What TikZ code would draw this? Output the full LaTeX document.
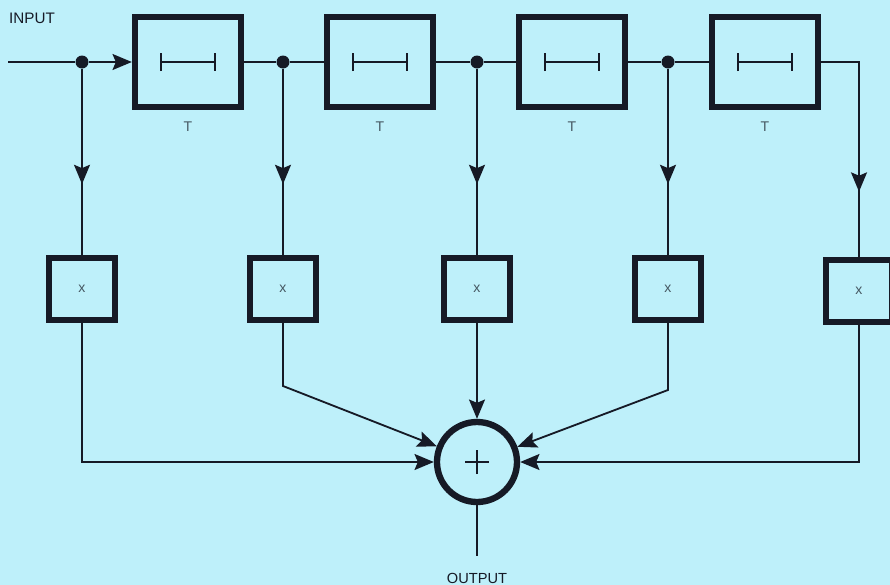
\documentclass[tikz,border=0pt]{standalone}
\usepackage{fontspec}
\setmainfont{Liberation Sans}
\usetikzlibrary{positioning,arrows.meta,decorations.markings}
\definecolor{paperblue}{RGB}{190,240,250}
\definecolor{inkdark}{RGB}{22,26,38}
\definecolor{inkgrey}{RGB}{70,88,98}

\begin{document}
\begin{tikzpicture}[x=0.3mm, y=-0.3mm,
  >={Stealth[length=5.8mm, width=4.8mm, inset=1mm]},
  wire/.style={draw=inkdark, line width=0.55mm},
  delaybox/.style={draw=inkdark, line width=1.9mm, minimum width=31.8mm,
    minimum height=27mm, inner sep=0pt},
  multbox/.style={draw=inkdark, line width=1.9mm, minimum width=19.8mm,
    minimum height=18.6mm, inner sep=0pt, text=inkgrey,
    font=\fontsize{12}{12}\selectfont},
  sumnode/.style={circle, draw=inkdark, line width=1.9mm, minimum size=24mm,
    inner sep=0pt},
  junction/.style={circle, fill=inkdark, minimum size=3.9mm, inner sep=0pt},
  tlabel/.style={inner sep=0pt, text=inkgrey, font=\fontsize{12}{12}\selectfont},
  iolabel/.style={inner sep=0pt, text=inkdark, font=\fontsize{13}{13}\selectfont},
  midarrow/.style={postaction={decorate}, decoration={markings,
    mark=at position #1 with {\arrow{>}}}},
]
% background, page size 890 x 585
\fill[paperblue] (0,0) rectangle (890,585);
\useasboundingbox (0,0) rectangle (890,585);

% tapped delay line
\node[delaybox] (d1) at (188,62) {};
\node[delaybox] (d2) at (380,62) {};
\node[delaybox] (d3) at (572,62) {};
\node[delaybox] (d4) at (765,62) {};
\foreach \i in {1,...,4} {
  \draw[wire, {Bar[width=5.4mm]}-{Bar[width=5.4mm]}]
    ([xshift=-8.4mm]d\i.center) -- ([xshift=8.4mm]d\i.center);
  \node[tlabel, below=3.5mm of d\i] (t\i) {T};
}

% taps
\node[junction] (j1) at (82,62) {};
\node[junction] (j2) at (283,62) {};
\node[junction] (j3) at (477,62) {};
\node[junction] (j4) at (668,62) {};

% multipliers
\node[multbox] (m1) at (82,289) {x};
\node[multbox] (m2) at (283,289) {x};
\node[multbox] (m3) at (477,289) {x};
\node[multbox] (m4) at (668,289) {x};
\node[multbox] (m5) at (859,291) {x};

% summer
\node[sumnode] (s) at (477,462) {};
\draw[wire] ([xshift=-3.6mm]s.center) -- ([xshift=3.6mm]s.center);
\draw[wire] ([yshift=-3.6mm]s.center) -- ([yshift=3.6mm]s.center);

% input and output
\node[iolabel] (inlbl) at (32,18) {INPUT};
\coordinate (inp) at (8,62);
\node[iolabel, font=\fontsize{12.5}{12.5}\selectfont] (outlbl) at (477,578) {OUTPUT};
\coordinate (oend) at (477,556);

\draw[wire] (inp) -- (j1);
\draw[wire, ->] (j1) -- (d1);
\draw[wire] (d1) -- (j2) -- (d2);
\draw[wire] (d2) -- (j3) -- (d3);
\draw[wire] (d3) -- (j4) -- (d4);
\foreach \i in {1,...,4}
  \draw[wire, midarrow=0.62] (j\i) -- (m\i);
\draw[wire, midarrow=0.72] (d4) -| (m5);

% into the summer
\coordinate (k2) at (283,386);
\coordinate (k4) at (668,390);
\draw[wire, ->] (m1) |- (s);
\draw[wire, ->] (m2) -- (k2) -- (s);
\draw[wire, ->] (m3) -- (s);
\draw[wire, ->] (m4) -- (k4) -- (s);
\draw[wire, ->] (m5) |- (s);
\draw[wire] (s) -- (oend);
\end{tikzpicture}
\end{document}
